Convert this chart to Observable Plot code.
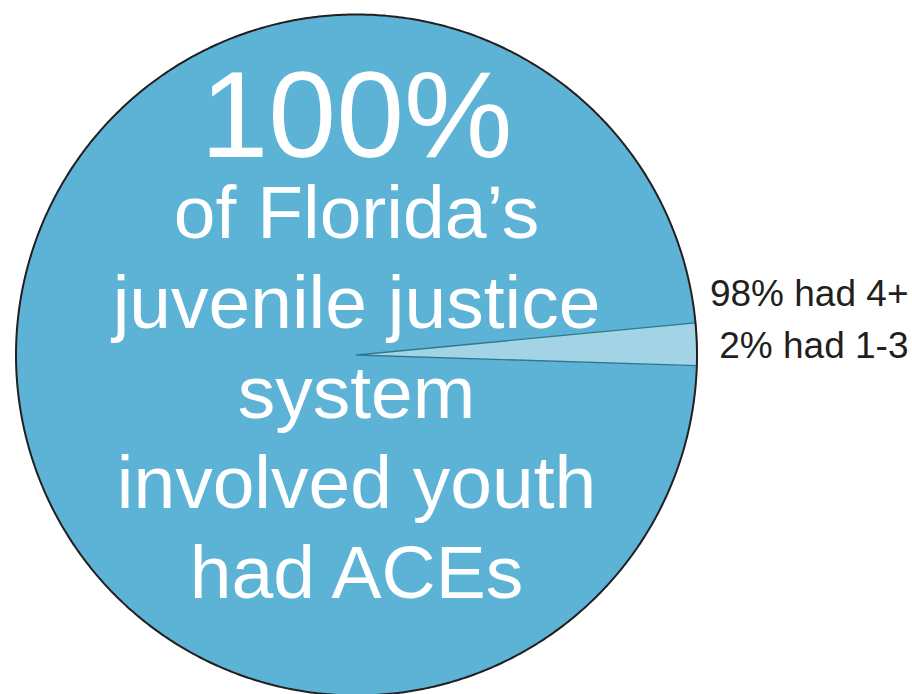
<!DOCTYPE html>
<html>
<head>
<meta charset="utf-8">
<script src="https://cdn.jsdelivr.net/npm/d3@7"></script>
<script src="https://cdn.jsdelivr.net/npm/@observablehq/plot@0.6"></script>
<style>
  html, body { margin: 0; padding: 0; background: #fff; }
  svg { display: block; }
</style>
</head>
<body>
<div id="chart"></div>
<script>
// ---- data ----
const categories = ["had 4+", "had 1-3"];
const shares = [98, 2];
const sliceLabels = ["98% had 4+", "2% had 1-3"];
const headline = ["100%"];
const bodyLines = ["of Florida’s", "juvenile justice", "system", "involved youth", "had ACEs"];

// ---- layout ----
const W = 912, H = 694;
const cx = 356, cy = 354.5, R = 340.5;
const startDeg = 91.8;

const pie = d3.pie().sort(null).value(d => d.share)
  .startAngle(startDeg * Math.PI / 180)
  .endAngle((startDeg + 360) * Math.PI / 180);
const arcs = pie(categories.map((c, i) => ({category: c, share: shares[i]})));

function arcPoints(a, withCenter) {
  const pts = [];
  if (withCenter) pts.push({category: a.data.category, u: 0, v: 0});
  const n = Math.max(4, Math.ceil((a.endAngle - a.startAngle) / (Math.PI / 360)));
  for (let k = 0; k <= n; k++) {
    const t = a.startAngle + (a.endAngle - a.startAngle) * k / n;
    pts.push({category: a.data.category, u: Math.sin(t), v: Math.cos(t)});
  }
  if (withCenter) pts.push({category: a.data.category, u: 0, v: 0});
  return pts;
}
const bigPts = arcPoints(arcs[0], true);
const smallPts = arcPoints(arcs[1], true);
const outlinePts = arcs.flatMap(a => arcPoints(a, false)).map(p => ({...p, category: "outline"}));

const plot = Plot.plot({
  width: W,
  height: H,
  margin: 0,
  style: {background: "#fff", overflow: "visible"},
  x: {domain: [-1, 1], range: [cx - R, cx + R], axis: null},
  y: {domain: [-1, 1], range: [cy + R, cy - R], axis: null},
  marks: [
    Plot.line(bigPts, {x: "u", y: "v", fill: "#5db3d6", stroke: "none", curve: "linear"}),
    Plot.line(smallPts, {x: "u", y: "v", fill: "#a2d4e6", stroke: "#2f7890", strokeWidth: 1.3, curve: "linear"}),
    Plot.line(outlinePts, {x: "u", y: "v", stroke: "#231f20", strokeWidth: 2, curve: "linear"}),
    Plot.text(headline, {
      x: () => 0, y: () => (cy - 156) / R,
      text: d => d, fill: "#fff", fontSize: 122, lineAnchor: "bottom",
      fontFamily: "Liberation Sans, Arial, sans-serif", textAnchor: "middle"
    }),
    Plot.text(bodyLines, {
      x: () => 0, y: (d, i) => (cy - (237 + 90 * i)) / R,
      text: d => d, fill: "#fff", fontSize: 75, lineAnchor: "bottom",
      fontFamily: "Liberation Sans, Arial, sans-serif", textAnchor: "middle"
    }),
    Plot.text(sliceLabels, {
      x: () => (908 - cx) / R, y: (d, i) => (cy - (305 + 52 * i)) / R,
      text: d => d, fill: "#231f20", fontSize: 37, lineAnchor: "bottom",
      fontFamily: "Liberation Sans, Arial, sans-serif", textAnchor: "end"
    })
  ]
});
document.getElementById("chart").appendChild(plot);
</script>
</body>
</html>
